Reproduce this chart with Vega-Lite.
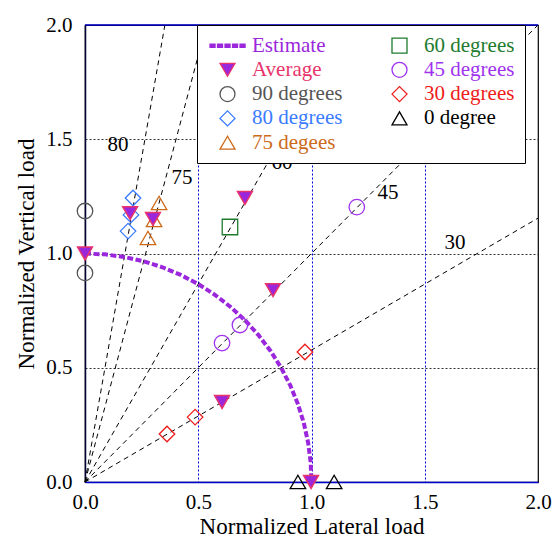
{
  "$schema": "https://vega.github.io/schema/vega-lite/v6.json",
  "width": 453,
  "height": 457,
  "autosize": {"type": "none"},
  "padding": {"left": 85, "top": 25, "right": 17, "bottom": 55},
  "background": "white",
  "config": {
    "view": {"stroke": "#000000", "strokeWidth": 1.2},
    "legend": {"labelFont": "serif", "titleFont": "serif"},
    "text": {"font": "serif"},
    "axis": {
      "labelFont": "Liberation Serif",
      "labelFontSize": 21,
      "labelColor": "#000000",
      "titleFont": "Liberation Serif",
      "titleFontSize": 23,
      "titleFontWeight": "normal",
      "titleColor": "#000000",
      "ticks": false,
      "labelFlush": false,
      "labelOverlap": false
    }
  },
  "datasets": {
    "rays": [
      {"angle": "30", "x": 0, "y": 0}, {"angle": "30", "x": 2, "y": 1.1547},
      {"angle": "45", "x": 0, "y": 0}, {"angle": "45", "x": 2, "y": 2},
      {"angle": "60", "x": 0, "y": 0}, {"angle": "60", "x": 1.1547, "y": 2},
      {"angle": "75", "x": 0, "y": 0}, {"angle": "75", "x": 0.5359, "y": 2},
      {"angle": "80", "x": 0, "y": 0}, {"angle": "80", "x": 0.3527, "y": 2}
    ],
    "raylabels": [
      {"label": "80", "x": 0.146, "y": 1.475},
      {"label": "75", "x": 0.428, "y": 1.33},
      {"label": "60", "x": 0.87, "y": 1.395},
      {"label": "45", "x": 1.338, "y": 1.265},
      {"label": "30", "x": 1.634, "y": 1.046}
    ],
    "estimate": [
      {"series": "Estimate", "x": 0, "y": 1},
      {"series": "Estimate", "x": 0.0872, "y": 0.9962},
      {"series": "Estimate", "x": 0.1736, "y": 0.9848},
      {"series": "Estimate", "x": 0.2588, "y": 0.9659},
      {"series": "Estimate", "x": 0.342, "y": 0.9397},
      {"series": "Estimate", "x": 0.4226, "y": 0.9063},
      {"series": "Estimate", "x": 0.5, "y": 0.866},
      {"series": "Estimate", "x": 0.5736, "y": 0.8192},
      {"series": "Estimate", "x": 0.6428, "y": 0.766},
      {"series": "Estimate", "x": 0.7071, "y": 0.7071},
      {"series": "Estimate", "x": 0.766, "y": 0.6428},
      {"series": "Estimate", "x": 0.8192, "y": 0.5736},
      {"series": "Estimate", "x": 0.866, "y": 0.5},
      {"series": "Estimate", "x": 0.9063, "y": 0.4226},
      {"series": "Estimate", "x": 0.9397, "y": 0.342},
      {"series": "Estimate", "x": 0.9659, "y": 0.2588},
      {"series": "Estimate", "x": 0.9848, "y": 0.1736},
      {"series": "Estimate", "x": 0.9962, "y": 0.0872},
      {"series": "Estimate", "x": 1, "y": 0}
    ],
    "markers": [
      {"series": "90 degrees", "x": 0, "y": 1.186},
      {"series": "90 degrees", "x": 0, "y": 0.915},
      {"series": "80 degrees", "x": 0.212, "y": 1.243},
      {"series": "80 degrees", "x": 0.203, "y": 1.169},
      {"series": "80 degrees", "x": 0.19, "y": 1.098},
      {"series": "75 degees", "x": 0.327, "y": 1.221},
      {"series": "75 degees", "x": 0.305, "y": 1.147},
      {"series": "75 degees", "x": 0.278, "y": 1.068},
      {"series": "60 degrees", "x": 0.64, "y": 1.116},
      {"series": "45 degrees", "x": 1.2, "y": 1.203},
      {"series": "45 degrees", "x": 0.684, "y": 0.687},
      {"series": "45 degrees", "x": 0.605, "y": 0.608},
      {"series": "30 degrees", "x": 0.971, "y": 0.569},
      {"series": "30 degrees", "x": 0.486, "y": 0.284},
      {"series": "30 degrees", "x": 0.362, "y": 0.21},
      {"series": "0 degree", "x": 0.94, "y": 0},
      {"series": "0 degree", "x": 1.1, "y": 0}
    ],
    "average": [
      {"series": "Average", "x": 0, "y": 1.0},
      {"series": "Average", "x": 0.199, "y": 1.177},
      {"series": "Average", "x": 0.3, "y": 1.151},
      {"series": "Average", "x": 0.706, "y": 1.243},
      {"series": "Average", "x": 0.83, "y": 0.84},
      {"series": "Average", "x": 0.605, "y": 0.35},
      {"series": "Average", "x": 0.998, "y": 0}
    ]
  },
  "layer": [
    {
      "data": {"name": "rays"},
      "mark": {"type": "line", "color": "#000000", "strokeWidth": 1, "strokeDash": [5, 4]},
      "encoding": {
        "x": {
          "field": "x", "type": "quantitative",
          "scale": {"domain": [0, 2], "nice": false, "zero": false},
          "axis": {
            "title": "Normalized Lateral load",
            "values": [0, 0.5, 1, 1.5, 2],
            "format": ".1f",
            "domainColor": "#0000cc",
            "domainWidth": 1.5,
            "labelPadding": 9,
            "titlePadding": 3,
            "grid": true,
            "gridColor": "#0000dd",
            "gridDash": [2, 2],
            "gridWidth": 1,
            "gridOpacity": {"condition": {"test": "datum.value == 0 || datum.value == 2", "value": 0}, "value": 1}
          }
        },
        "y": {
          "field": "y", "type": "quantitative",
          "scale": {"domain": [0, 2], "nice": false, "zero": false},
          "axis": {
            "title": "Normalized Vertical load",
            "values": [0, 0.5, 1, 1.5, 2],
            "format": ".1f",
            "domainColor": "#000033",
            "domainWidth": 1.5,
            "labelPadding": 13,
            "titlePadding": 7,
            "grid": true,
            "gridColor": "#333333",
            "gridDash": [2, 2],
            "gridWidth": 1,
            "gridOpacity": {"condition": {"test": "datum.value == 0 || datum.value == 2", "value": 0}, "value": 1}
          }
        },
        "detail": {"field": "angle"}
      }
    },
    {
      "data": {"name": "raylabels"},
      "mark": {"type": "text", "font": "serif", "fontSize": 21, "color": "#000000"},
      "encoding": {
        "x": {"field": "x", "type": "quantitative"},
        "y": {"field": "y", "type": "quantitative"},
        "text": {"field": "label"}
      }
    },
    {
      "data": {"values": [{"v": 2}]},
      "mark": {"type": "rule", "color": "#0000cc", "strokeWidth": 1.5},
      "encoding": {"y": {"field": "v", "type": "quantitative"}}
    },
    {
      "data": {"name": "estimate"},
      "mark": {"type": "line", "strokeWidth": 4, "strokeDash": [6, 2.5], "strokeCap": "butt"},
      "encoding": {
        "x": {"field": "x", "type": "quantitative"},
        "y": {"field": "y", "type": "quantitative"},
        "color": {
          "field": "series", "type": "nominal",
          "scale": {
            "domain": ["Estimate", "Average", "90 degrees", "80 degrees", "75 degees", "60 degrees", "45 degrees", "30 degrees", "0 degree"],
            "range": ["#9b27dd", "#e8336b", "#555555", "#3a7bff", "#cc6a1a", "#1e7b2e", "#a033ee", "#ee1c1c", "#000000"]
          },
          "legend": {
            "title": null,
            "orient": "none",
            "legendX": 112,
            "legendY": 0,
            "columns": 2,
            "columnPadding": 36,
            "rowPadding": 2.3,
            "padding": 10,
            "strokeColor": "#000000",
            "fillColor": "#ffffff",
            "symbolSize": 225,
            "symbolOffset": 10,
            "labelOffset": 14,
            "labelFont": "serif",
            "labelFontSize": 21,
            "labelLimit": 400,
            "symbolStrokeWidth": 1.3,
            "encode": {
              "symbols": {
                "update": {
                  "shape": {"scale": "shape", "field": "value"},
                  "fill": {"signal": "datum.value === 'Estimate' || datum.value === 'Average' ? '#9b27dd' : 'transparent'"},
                  "stroke": {"signal": "datum.value === 'Estimate' ? 'transparent' : scale('color', datum.value)"},
                  "opacity": {"value": 1}
                }
              },
              "labels": {
                "update": {"fill": {"scale": "color", "field": "value"}, "font": {"value": "serif"}}
              }
            }
          }
        }
      }
    },
    {
      "data": {"name": "markers"},
      "mark": {"type": "point", "filled": false, "size": 240, "strokeWidth": 1.3, "opacity": 1},
      "encoding": {
        "x": {"field": "x", "type": "quantitative"},
        "y": {"field": "y", "type": "quantitative"},
        "color": {"field": "series", "type": "nominal"},
        "shape": {
          "field": "series", "type": "nominal",
          "scale": {
            "domain": ["Estimate", "Average", "90 degrees", "80 degrees", "75 degees", "60 degrees", "45 degrees", "30 degrees", "0 degree"],
            "range": ["M-2.33,-0.2h0.67v0.4h-0.67z M-1.33,-0.2h0.67v0.4h-0.67z M-0.33,-0.2h0.67v0.4h-0.67z M0.67,-0.2h0.67v0.4h-0.67z M1.67,-0.2h0.67v0.4h-0.67z", "triangle-down", "circle", "diamond", "triangle-up", "square", "circle", "diamond", "triangle-up"]
          },
          "legend": null
        }
      }
    },
    {
      "data": {"name": "average"},
      "mark": {"type": "point", "shape": "triangle-down", "filled": true, "fill": "#9b27dd", "stroke": "#e8336b", "strokeWidth": 1.5, "size": 220, "opacity": 1, "fillOpacity": 1},
      "encoding": {
        "x": {"field": "x", "type": "quantitative"},
        "y": {"field": "y", "type": "quantitative"}
      }
    }
  ]
}
